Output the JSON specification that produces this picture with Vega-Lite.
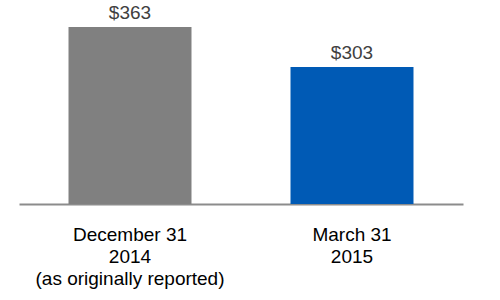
{
  "$schema": "https://vega.github.io/schema/vega-lite/v6.json",
  "autosize": "none",
  "width": 444,
  "height": 199,
  "padding": {"left": 19, "top": 5, "right": 37, "bottom": 96},
  "data": {
    "values": [
      {"period": "December 31|2014|(as originally reported)", "value": 363, "label": "$363", "series": "2014"},
      {"period": "March 31|2015", "value": 303, "label": "$303", "series": "2015"}
    ]
  },
  "encoding": {
    "x": {
      "field": "period",
      "type": "nominal",
      "sort": null,
      "scale": {"paddingInner": 0.446, "paddingOuter": 0.223},
      "axis": {
        "title": null,
        "labelAngle": 0,
        "labelExpr": "split(datum.label, '|')",
        "labelFont": "Liberation Sans",
        "labelFontSize": 19,
        "labelColor": "#000000",
        "labelLineHeight": 22,
        "labelPadding": 21,
        "labelBaseline": "top",
        "labelLimit": 0,
        "ticks": false,
        "domainColor": "#8c8c8c",
        "domainWidth": 2
      }
    },
    "y": {
      "field": "value",
      "type": "quantitative",
      "scale": {"domain": [97.5, 396], "zero": false, "nice": false},
      "axis": null
    }
  },
  "layer": [
    {
      "mark": {"type": "bar", "clip": true},
      "encoding": {
        "color": {
          "field": "series",
          "type": "nominal",
          "scale": {"domain": ["2014", "2015"], "range": ["#808080", "#005AB5"]},
          "legend": null
        }
      }
    },
    {
      "mark": {"type": "text", "baseline": "alphabetic", "dy": -8, "font": "Liberation Sans", "fontSize": 19, "color": "#404040"},
      "encoding": {"text": {"field": "label"}}
    }
  ],
  "config": {"view": {"stroke": null}}
}
